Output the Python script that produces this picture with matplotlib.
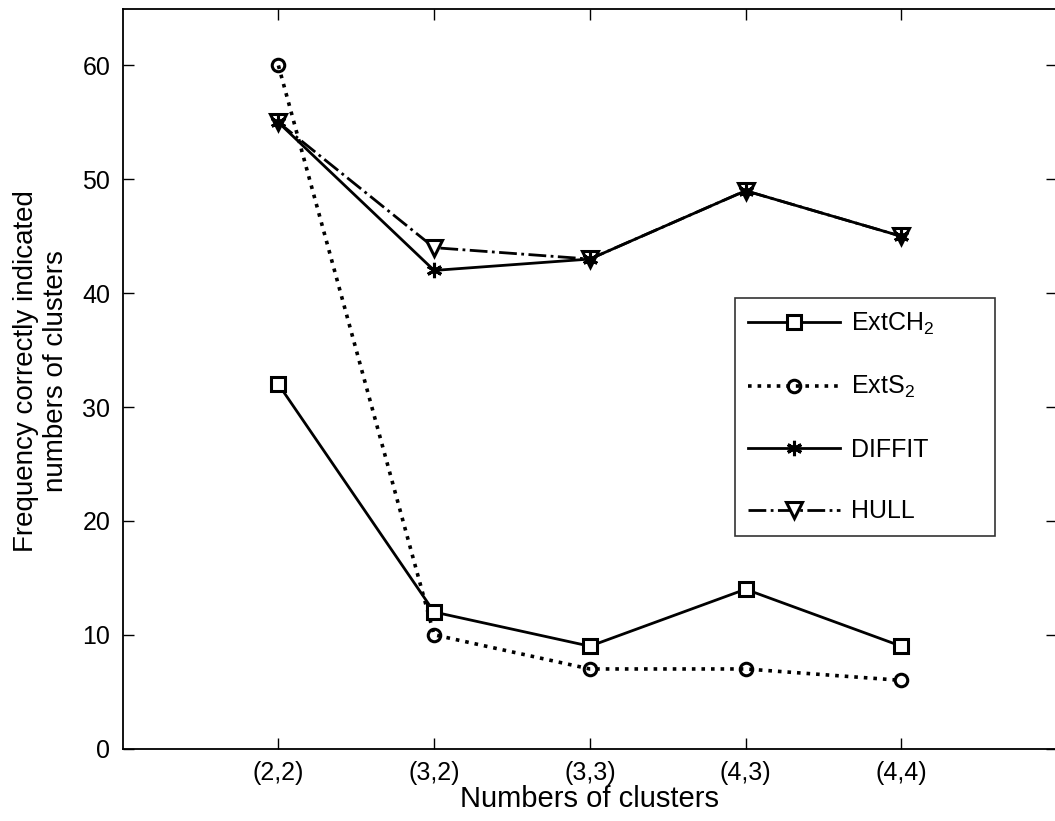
import matplotlib
matplotlib.use("Agg")
import matplotlib.pyplot as plt
import numpy as np

plt.rcParams['font.family'] = ['Liberation Sans', 'DejaVu Sans']
plt.rcParams['mathtext.fontset'] = 'custom'
plt.rcParams['mathtext.rm'] = 'Liberation Sans'

# data
categories = ['(2,2)', '(3,2)', '(3,3)', '(4,3)', '(4,4)']
ext_ch2 = [32, 12, 9, 14, 9]
ext_s2 = [60, 10, 7, 7, 6]
diffit = [55, 42, 43, 49, 45]
hull = [55, 44, 43, 49, 45]

x = np.arange(1, len(categories) + 1)

fig = plt.figure(figsize=(10.55, 8.21), dpi=100)
ax = fig.add_axes([0.1163, 0.0881, 0.8856, 0.9015])

lw = 2.0
ax.plot(x, ext_ch2, '-', color='black', lw=lw, marker='s', ms=10,
        mfc='white', mec='black', mew=2.2, label='ExtCH$_2$', zorder=3)
ax.plot(x, ext_s2, ':', color='black', lw=lw + 0.6, marker='o', ms=9,
        mfc='none', mec='black', mew=2.2, label='ExtS$_2$', zorder=2)
ax.plot(x, diffit, '-', color='black', lw=lw, marker=(6, 2, 0), ms=11,
        mec='black', mew=2.2, label='DIFFIT', zorder=5)
ax.plot(x, hull, '-.', color='black', lw=lw, marker='v', ms=12,
        mfc='white', mec='black', mew=2.2, label='HULL', zorder=4)

ax.set_xlim(0, 6)
ax.set_ylim(0, 65)
ax.set_xticks(x)
ax.set_xticklabels(categories)
ax.set_yticks(np.arange(0, 61, 10))
ax.tick_params(direction='in', length=8, width=1, top=True, right=True,
               labelsize=18, pad=9)
for s in ax.spines.values():
    s.set_linewidth(1.3)

ax.set_xlabel('Numbers of clusters', fontsize=21, labelpad=0)
ax.set_ylabel('Frequency correctly indicated\nnumbers of clusters', fontsize=20)
ax.yaxis.set_label_coords(-0.058, 0.51)

leg = ax.legend(loc='upper left', bbox_to_anchor=(0.6554, 0.2928, 0.278, 0.316),
                mode='expand', fontsize=18, frameon=True, fancybox=False,
                edgecolor='black', handlelength=3.7, labelspacing=1.5,
                borderpad=0.5, handletextpad=0.45, borderaxespad=0)
leg.get_frame().set_linewidth(1.2)

fig.savefig('out.png', dpi=100)
